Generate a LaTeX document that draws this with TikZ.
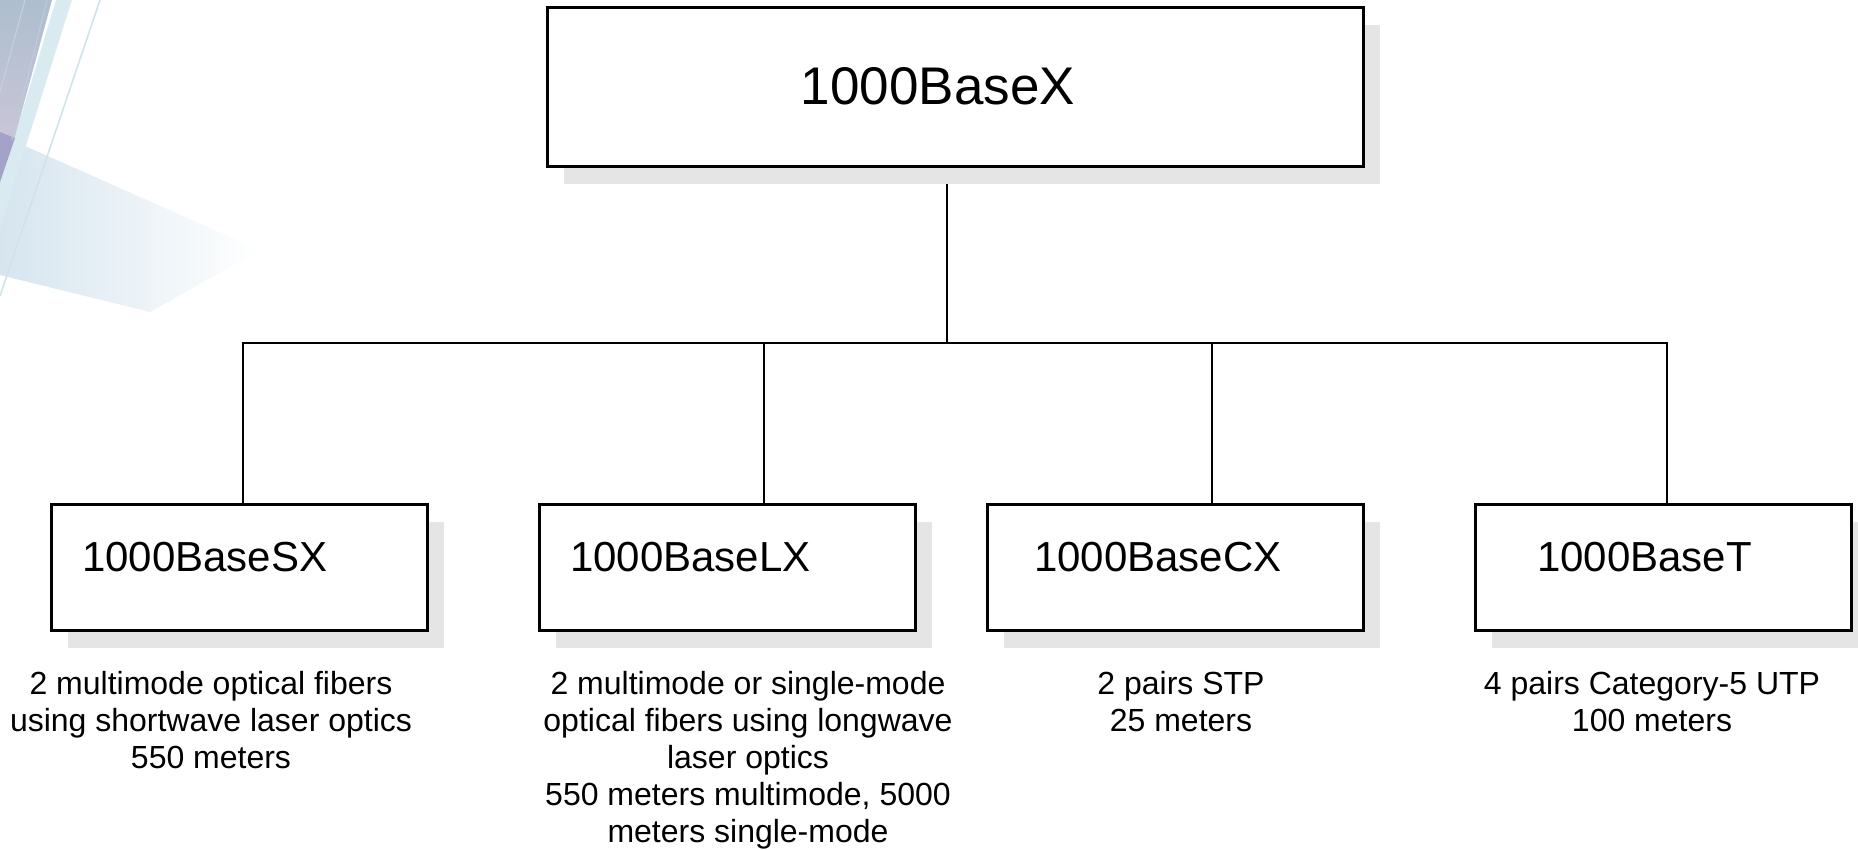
\documentclass[tikz,border=0pt]{standalone}
\usepackage{fontspec}
\setmainfont{Liberation Sans}
\usetikzlibrary{shadows}
\definecolor{shadowgray}{HTML}{E5E5E5}
\definecolor{fanblue}{HTML}{D6E5EF}
\definecolor{bandtop}{HTML}{AEBECE}
\definecolor{bandbot}{HTML}{CFC7DA}
\definecolor{bandpurple}{HTML}{A5A2CA}
\definecolor{bandcyan}{HTML}{D9EBF1}
\definecolor{streak}{HTML}{CFE3EA}
\pgfdeclarelayer{background}
\pgfsetlayers{background,main}
\tikzset{
  boxshadow/.style={general shadow={fill=shadowgray, shadow xshift=16pt, shadow yshift=-17pt}},
  topbox/.style={draw=black, line width=2.6pt, fill=white, inner sep=0pt,
    minimum width=816pt, minimum height=159pt, boxshadow},
  subbox/.style={draw=black, line width=2.6pt, fill=white, inner sep=0pt,
    minimum width=376pt, minimum height=126pt, boxshadow},
  toptext/.style={inner sep=0pt, font=\fontsize{53pt}{60pt}\selectfont},
  subtext/.style={inner sep=0pt, anchor=base west, font=\fontsize{42pt}{50pt}\selectfont},
  desc/.style={inner sep=0pt, anchor=north, align=center, font=\fontsize{32pt}{37pt}\selectfont},
  wire/.style={draw=black, line width=2.5pt, line join=miter}
}
\begin{document}
\begin{tikzpicture}[x=1pt,y=-1pt]
\useasboundingbox (0,0) rectangle (1858,849);
\clip (0,0) rectangle (1858,849);

% corner ornament
\shade[left color=fanblue, right color=white] (0,135) -- (260,250) -- (150,312) -- (0,275) -- cycle;
\fill[bandcyan] (56,0) -- (72,0) -- (0,228) -- (0,185) -- cycle;
\shade[top color=bandtop, bottom color=bandbot] (0,0) -- (52,0) -- (14,140) -- (0,172) -- cycle;
\fill[bandpurple] (0,132) -- (15,138) -- (0,182) -- cycle;
\draw[bandtop!70!white, line width=1pt] (25,0) -- (0,92);
\draw[bandtop!80!white, line width=1pt] (47,0) -- (12,140);
\draw[streak, line width=1.6pt] (100,0) -- (0,296);

% boxes
\node[topbox] (top) at (955.5,87) {};
\node[subbox] (sx) at (239.5,567.5) {};
\node[subbox] (lx) at (727.5,567.5) {};
\node[subbox] (cx) at (1175.5,567.5) {};
\node[subbox] (bt) at (1663.5,567.5) {};

% box titles
\node[toptext, anchor=base] (top-t) at (938,104) {1000BaseX};
\node[subtext] (sx-t) at (82,571) {1000BaseSX};
\node[subtext] (lx-t) at (570,571) {1000BaseLX};
\node[subtext] (cx-t) at (1034,571) {1000BaseCX};
\node[subtext] (bt-t) at (1537,571) {1000BaseT};

% descriptions
\node[desc] (sx-d) at (211,671) {2 multimode optical fibers\\using shortwave laser optics\\550 meters};
\node[desc] (lx-d) at (748,671) {2 multimode or single-mode\\optical fibers using longwave\\laser optics\\550 meters multimode, 5000\\meters single-mode};
\node[desc] (cx-d) at (1181,671) {2 pairs STP\\25 meters};
\node[desc] (bt-d) at (1652,671) {4 pairs Category-5 UTP\\100 meters};

% tree connectors
\coordinate (hub) at (947,343);
\coordinate (busL) at (243,343);
\coordinate (j2) at (764,343);
\coordinate (j3) at (1212,343);
\coordinate (busR) at (1667,343);
\begin{pgfonlayer}{background}
\draw[wire] (top.south -| hub) -- (hub);
\draw[wire] (busL |- sx.north) -- (busL) -- (busR) -- (busR |- bt.north);
\draw[wire] (j2) -- (j2 |- lx.north);
\draw[wire] (j3) -- (j3 |- cx.north);
\end{pgfonlayer}
\end{tikzpicture}
\end{document}
